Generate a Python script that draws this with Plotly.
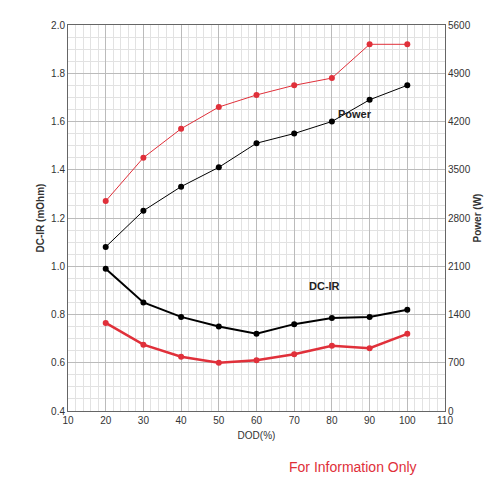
import plotly.graph_objects as go

dod = [20, 30, 40, 50, 60, 70, 80, 90, 100]
dcir_black = [0.99, 0.85, 0.79, 0.75, 0.72, 0.76, 0.785, 0.79, 0.82]
dcir_red = [0.765, 0.675, 0.625, 0.60, 0.61, 0.635, 0.67, 0.66, 0.72]
power_black = [2380, 2905, 3255, 3535, 3885, 4025, 4200, 4515, 4725]
power_red = [3045, 3675, 4095, 4410, 4585, 4725, 4830, 5320, 5320]

fig = go.Figure()
fig.add_trace(go.Scatter(x=dod, y=dcir_black, mode='lines+markers',
                         line=dict(color='black', width=2), marker=dict(size=6, color='black')))
fig.add_trace(go.Scatter(x=dod, y=dcir_red, mode='lines+markers',
                         line=dict(color='#e0303a', width=2.5), marker=dict(size=6, color='#e0303a')))
fig.add_trace(go.Scatter(x=dod, y=power_black, mode='lines+markers', yaxis='y2',
                         line=dict(color='black', width=1), marker=dict(size=6, color='black')))
fig.add_trace(go.Scatter(x=dod, y=power_red, mode='lines+markers', yaxis='y2',
                         line=dict(color='#e0303a', width=1), marker=dict(size=6, color='#e0303a')))

grid = dict(showgrid=True, gridcolor='#bbbbbb', gridwidth=1,
            minor=dict(showgrid=True, gridcolor='#e2e2e2', nticks=5))
fig.update_layout(
    width=497, height=494, showlegend=False,
    plot_bgcolor='white', paper_bgcolor='white',
    margin=dict(l=60, r=60, t=17, b=91),
    font=dict(family='Liberation Sans', size=10, color='#333'),
    xaxis=dict(range=[10, 110], dtick=10, title=dict(text='DOD(%)', font=dict(size=10), standoff=6),
               showline=True, linecolor='#666', mirror=True, ticks='', **grid),
    yaxis=dict(range=[0.4, 2.0], dtick=0.2, tickformat='.1f',
               title=dict(text='<b>DC-IR (mOhm)</b>', font=dict(size=10), standoff=4),
               showline=True, linecolor='#666', ticks='', **grid),
    yaxis2=dict(range=[0, 5600], dtick=700, overlaying='y', side='right',
                title=dict(text='<b>Power (W)</b>', font=dict(size=10), standoff=4),
                showgrid=False, showline=True, linecolor='#666', ticks=''),
    annotations=[
        dict(x=86, y=1.63, xref='x', yref='y', text='<b>Power</b>', showarrow=False, font=dict(size=11, color='#222')),
        dict(x=78, y=0.92, xref='x', yref='y', text='<b>DC-IR</b>', showarrow=False, font=dict(size=11, color='#222')),
        dict(x=0.93, y=-0.17, xref='paper', yref='paper', xanchor='right', text='For Information Only',
             showarrow=False, font=dict(size=14, color='#e0303a')),
    ],
)
fig.write_html("out.html")
